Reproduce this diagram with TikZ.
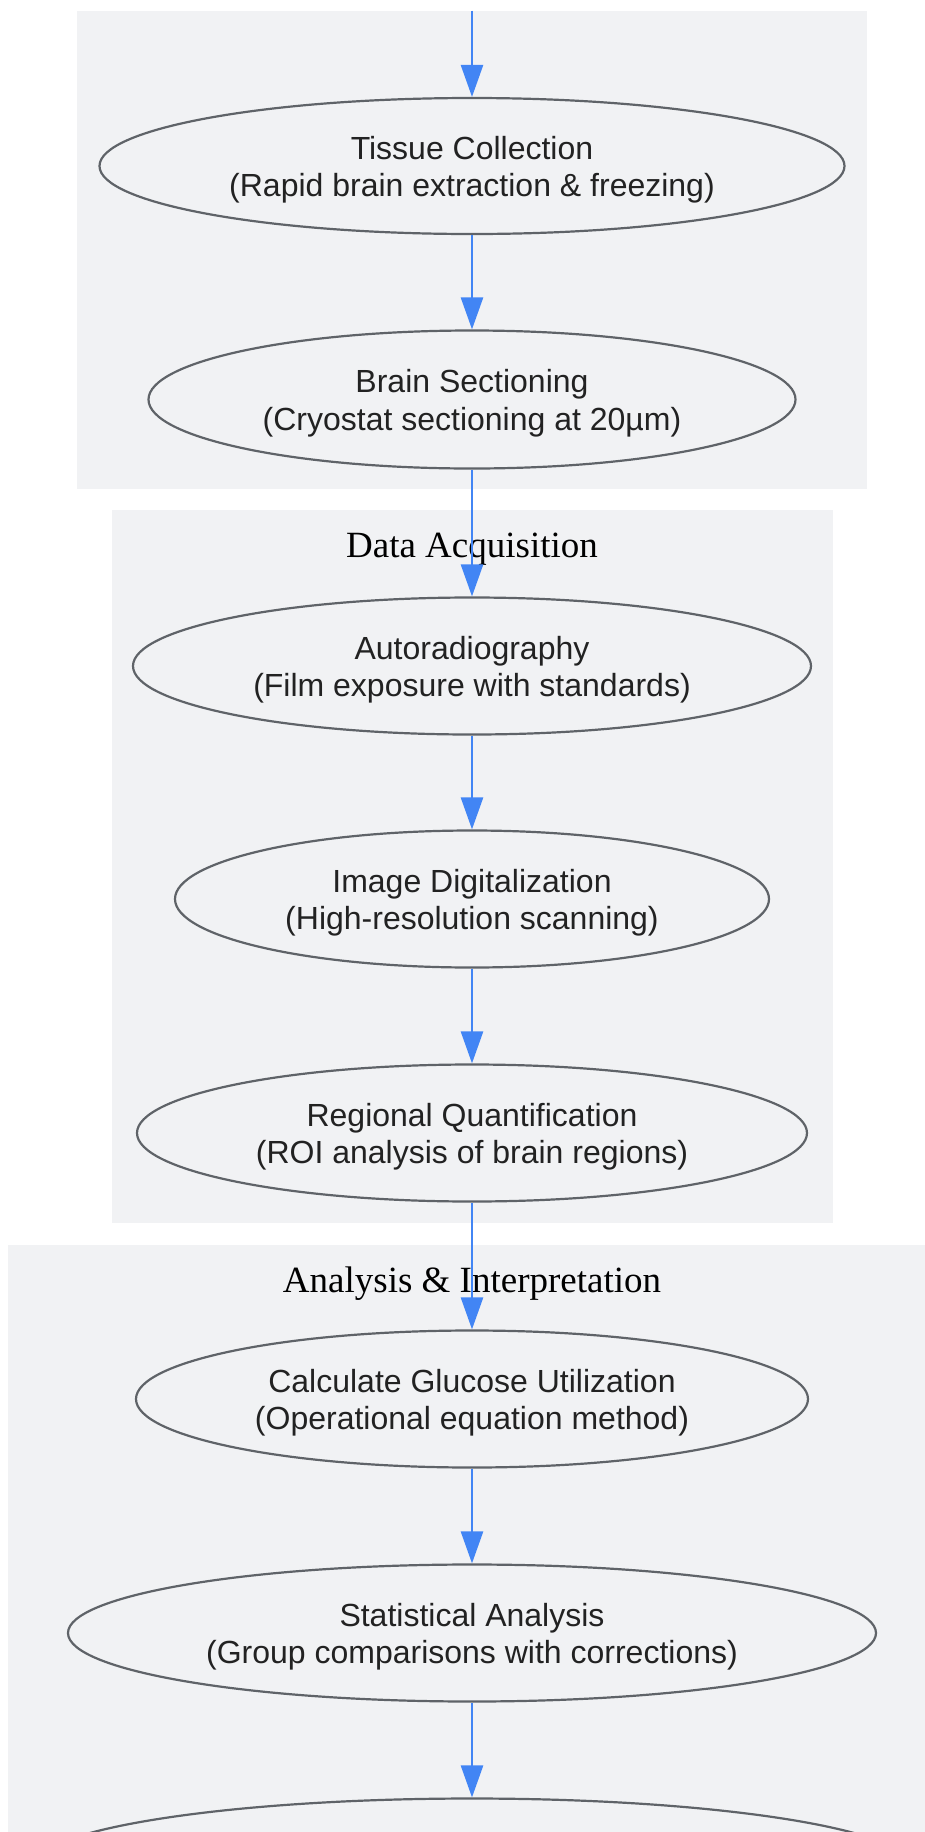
\documentclass[tikz,border=0pt]{standalone}
\usepackage{fontspec}
\setmainfont{Liberation Serif}
\newfontfamily\stepfont{Liberation Sans}
\usetikzlibrary{shapes.geometric, arrows.meta}

\definecolor{groupfill}{HTML}{F1F2F4}
\definecolor{flowblue}{HTML}{4285F4}
\definecolor{rimgray}{HTML}{5F6368}
\definecolor{inkdark}{HTML}{222222}

% strut that lowers the two text lines a little inside each stage
\newcommand{\stagetop}{\rule{0pt}{30.5pt}}

\begin{document}
\begin{tikzpicture}[x=1pt, y=-1pt,
  Group/.style={fill=groupfill, draw=none},
  GroupTitle/.style={font=\fontsize{37}{44}\selectfont, text=black, inner sep=0},
  Stage/.style={ellipse, draw=rimgray, line width=2.2pt, fill=groupfill, inner sep=0, text=inkdark,
    align=center, font=\stepfont\fontsize{32}{37.5}\selectfont},
  Flow/.style={-{Triangle[length=32pt, width=22pt]}, draw=flowblue, line width=2.6pt}]

\useasboundingbox (0,0) rectangle (925,1832);

% groups
\fill [Group] (77,10.5) rectangle (867,489);
\fill [Group] (112,510) rectangle (833,1223);
\fill [Group] (8,1245) rectangle (925,1832);

\node [GroupTitle] (acqtitle) at (472,549.5) {Data Acquisition};
\node [GroupTitle] (anatitle) at (472,1283.5) {Analysis \& Interpretation};

% stages
\node [Stage, minimum width=745pt, minimum height=136pt] (tissue) at (472,166) {\stagetop Tissue Collection\\(Rapid brain extraction \& freezing)};
\node [Stage, minimum width=647pt, minimum height=138pt] (section) at (472,399.5) {\stagetop Brain Sectioning\\(Cryostat sectioning at 20µm)};
\node [Stage, minimum width=678pt, minimum height=137pt] (autorad) at (472,666) {\stagetop Autoradiography\\(Film exposure with standards)};
\node [Stage, minimum width=594pt, minimum height=137pt] (digitize) at (472,899) {\stagetop Image Digitalization\\(High-resolution scanning)};
\node [Stage, minimum width=670pt, minimum height=137pt] (quantify) at (472,1133) {\stagetop Regional Quantification\\(ROI analysis of brain regions)};
\node [Stage, minimum width=672pt, minimum height=137pt] (glucose) at (472,1399) {\stagetop Calculate Glucose Utilization\\(Operational equation method)};
\node [Stage, minimum width=808pt, minimum height=137pt] (stats) at (472,1633) {\stagetop Statistical Analysis\\(Group comparisons with corrections)};
\node [Stage, minimum width=880pt, minimum height=137pt] (report) at (472,1867) {};

\coordinate (entry) at (472,10.5);

% flow
\draw [Flow] (entry) -- (tissue);
\foreach \from/\to in {tissue/section, section/autorad, autorad/digitize, digitize/quantify, quantify/glucose, glucose/stats, stats/report} {
  \draw [Flow] (\from) -- (\to);
}
\end{tikzpicture}
\end{document}
